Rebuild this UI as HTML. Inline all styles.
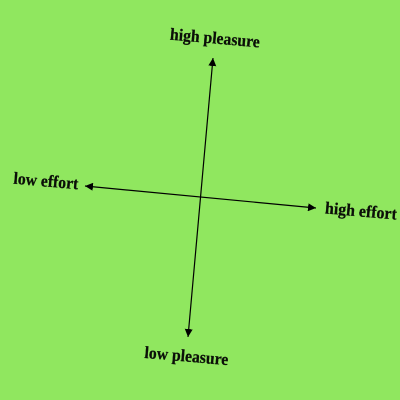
<!DOCTYPE html>
<html>
<head>
<meta charset="utf-8">
<style>
html,body{margin:0;padding:0;background:#90e75f;width:400px;height:400px;overflow:hidden}
svg{display:block}
text{font-family:"Liberation Serif",serif;font-weight:bold;font-size:17px;fill:#0b0f08;text-anchor:middle;stroke:#0b0f08;stroke-width:.25}
</style>
</head>
<body>
<svg width="400" height="400" viewBox="0 0 400 400">
<defs>
<marker id="a" markerWidth="9" markerHeight="8" refX="8" refY="4" orient="auto-start-reverse" markerUnits="userSpaceOnUse">
<path d="M0 0L8 4L0 8Z" fill="#000"/>
</marker>
</defs>
<rect width="400" height="400" fill="#90e75f"/>
<line x1="213" y1="58" x2="188" y2="337" stroke="#000" stroke-width="1.2" marker-start="url(#a)" marker-end="url(#a)"/>
<line x1="85" y1="186" x2="316" y2="208" stroke="#000" stroke-width="1.2" marker-start="url(#a)" marker-end="url(#a)"/>
<text transform="translate(214.5 43.5) rotate(5)" textLength="90" lengthAdjust="spacingAndGlyphs">high pleasure</text>
<text transform="translate(186 361.5) rotate(5)" textLength="84" lengthAdjust="spacingAndGlyphs">low pleasure</text>
<text transform="translate(45.5 186.5) rotate(5)" textLength="65" lengthAdjust="spacingAndGlyphs">low effort</text>
<text transform="translate(360.5 216.5) rotate(5)" textLength="72" lengthAdjust="spacingAndGlyphs">high effort</text>
</svg>
</body>
</html>
